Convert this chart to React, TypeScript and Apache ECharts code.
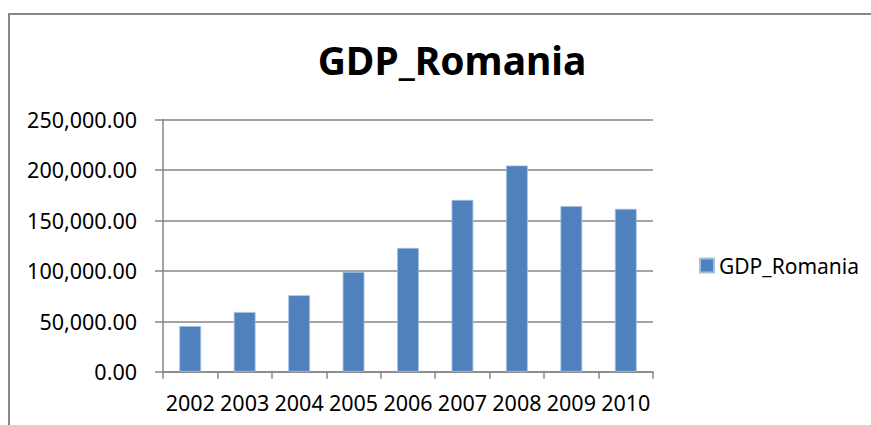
import React, { useEffect, useRef } from "react";
import * as echarts from "echarts";

const years = ["2002", "2003", "2004", "2005", "2006", "2007", "2008", "2009", "2010"];
const gdpRomania = [45300, 59200, 75800, 98900, 122700, 170300, 204400, 164100, 161400];
const yTicks = { min: 0, max: 250000, interval: 50000 };
const seriesName = "GDP_Romania";
const titleText = "GDP_Romania";

const FONT = "'Noto Sans', 'Open Sans', sans-serif";
const GRAY = "#868686";

function fmt(v: number): string {
  return v.toLocaleString("en-US", { minimumFractionDigits: 2, maximumFractionDigits: 2 });
}

export default function App() {
  const ref = useRef<HTMLDivElement>(null);
  useEffect(() => {
    if (!ref.current) return;
    const chart = echarts.init(ref.current, null, { renderer: "svg" });
    chart.setOption({
      animation: false,
      backgroundColor: "#ffffff",
      title: {
        text: titleText,
        left: 447,
        textAlign: "center",
        top: 35,
        textStyle: { fontFamily: FONT, fontSize: 39, fontWeight: "bold", color: "#000" },
      },
      graphic: [
        {
          type: "rect",
          shape: { x: 9, y: 14, width: 1000, height: 600 },
          style: { fill: "none", stroke: GRAY, lineWidth: 2 },
          silent: true,
        },
      ],
      legend: {
        left: 694,
        top: 250,
        itemWidth: 14,
        itemHeight: 14,
        icon: "rect",
        textStyle: { fontFamily: FONT, fontSize: 21, color: "#000" },
        data: [seriesName],
      },
      grid: { left: 163, right: 218, top: 119.5, bottom: 53.3, containLabel: false },
      xAxis: {
        type: "category",
        data: years,
        boundaryGap: true,
        axisLine: { show: true, lineStyle: { color: GRAY, width: 1.5 } },
        axisTick: { show: true, alignWithLabel: false, length: 7, lineStyle: { color: GRAY, width: 1.5 } },
        axisLabel: { margin: 20, fontFamily: FONT, fontSize: 21.5, color: "#000", interval: 0 },
        splitLine: { show: false },
      },
      yAxis: {
        type: "value",
        min: yTicks.min,
        max: yTicks.max,
        interval: yTicks.interval,
        axisLine: { show: true, lineStyle: { color: GRAY, width: 1.5 } },
        axisTick: { show: true, length: 8, lineStyle: { color: GRAY, width: 1.5 } },
        axisLabel: { margin: 26, fontFamily: FONT, fontSize: 21.5, color: "#000", formatter: (v: number) => fmt(v) },
        splitLine: { show: true, lineStyle: { color: GRAY, width: 1.5 } },
      },
      series: [
        {
          name: seriesName,
          type: "bar",
          data: gdpRomania,
          barWidth: "40%",
          itemStyle: { color: "#4F81BD", borderColor: "#A7C0DE", borderWidth: 0.8 },
        },
      ],
    });
    return () => chart.dispose();
  }, []);
  return (
    <div
      ref={ref}
      style={{ position: "fixed", left: 0, top: 0, width: 871, height: 425, background: "#fff" }}
    />
  );
}
